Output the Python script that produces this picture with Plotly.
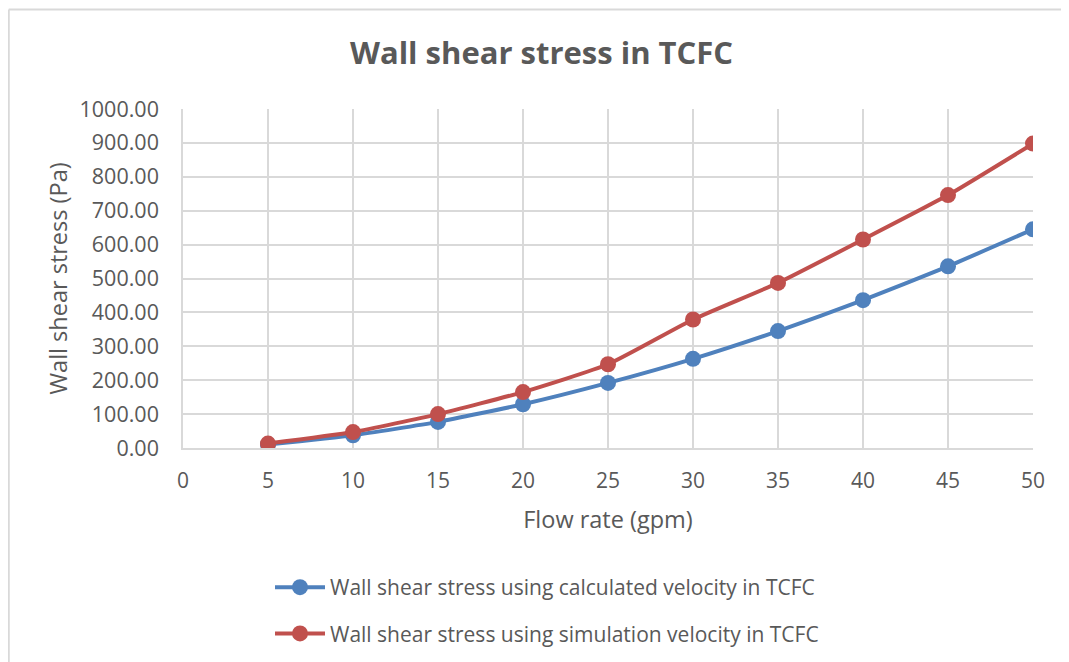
import plotly.graph_objects as go

flow_rate = [5, 10, 15, 20, 25, 30, 35, 40, 45, 50]
calc_stress = [10, 37.5, 77, 129, 192, 263, 345, 436, 536, 645]
sim_stress = [13, 47, 100, 165, 247, 379, 487, 615, 746, 898]

name_calc = "Wall shear stress using calculated velocity in TCFC"
name_sim = "Wall shear stress using simulation velocity in TCFC"
title_text = "Wall shear stress in TCFC"
x_title = "Flow rate (gpm)"
y_title = "Wall shear stress (Pa)"

BLUE = "#4F81BD"
RED = "#C0504D"
TXT = "#595959"
GRID = "#D9D9D9"
FONT = "Open Sans"

# page has an 8px body margin; figure coordinates below are page - 8
W, H = 1061, 654
L, T, R, B = 175, 101, 1025, 440
PW, PH = R - L, B - T

fig = go.Figure()
fig.add_trace(go.Scatter(
    x=flow_rate, y=calc_stress, name=name_calc, mode="lines+markers",
    line=dict(color=BLUE, width=4, shape="spline", smoothing=0.5),
    marker=dict(color=BLUE, size=16), legendgroup="a"))
fig.add_trace(go.Scatter(
    x=flow_rate, y=sim_stress, name=name_sim, mode="lines+markers",
    line=dict(color=RED, width=4, shape="spline", smoothing=0.5),
    marker=dict(color=RED, size=16), legendgroup="b"))

fig.update_layout(
    width=W, height=H,
    margin=dict(l=L, r=W - R, t=T, b=H - B, autoexpand=False),
    paper_bgcolor="white", plot_bgcolor="white",
    font=dict(family=FONT, color=TXT, size=21),
    title=dict(text="<b>" + title_text + "</b>", x=533.5 / W, xanchor="center",
               y=1 - 45 / H, yanchor="middle", font=dict(size=31, color=TXT, family=FONT)),
    xaxis=dict(range=[0, 50], dtick=5, tick0=0, showgrid=True, gridcolor=GRID, gridwidth=1.5,
               showline=True, linecolor=GRID, linewidth=1.5, zeroline=False, ticks="",
               ticklabelstandoff=13, tickfont=dict(size=21, color=TXT),
               title=dict(text=x_title, standoff=19, font=dict(size=23.5, color=TXT))),
    yaxis=dict(range=[0, 1000], dtick=100, tick0=0, tickformat=".2f", showgrid=True,
               gridcolor=GRID, gridwidth=1.5, showline=True, linecolor=GRID, linewidth=1.5,
               mirror=False, zeroline=False, ticks="", ticklabelstandoff=18,
               tickfont=dict(size=21.5, color=TXT),
               title=dict(text=y_title, standoff=5, font=dict(size=23.5, color=TXT))),
    showlegend=True,
    legend=dict(orientation="v", x=(262 - L) / PW, xanchor="left",
                y=(B - 559) / PH, yanchor="top", traceorder="grouped",
                tracegroupgap=16, itemwidth=50, font=dict(size=21, color=TXT),
                bgcolor="rgba(0,0,0,0)"),
    shapes=[
        dict(type="line", xref="paper", yref="paper",
             x0=(0.75 - L) / PW, x1=(1500 - L) / PW,
             y0=(B - 1.5) / PH, y1=(B - 1.5) / PH,
             line=dict(color=GRID, width=2), layer="below"),
        dict(type="line", xref="paper", yref="paper",
             x0=(0.75 - L) / PW, x1=(0.75 - L) / PW,
             y0=(B - 1.5) / PH, y1=(B - 1000) / PH,
             line=dict(color=GRID, width=2), layer="below"),
    ],
)

fig.write_html("out.html")
